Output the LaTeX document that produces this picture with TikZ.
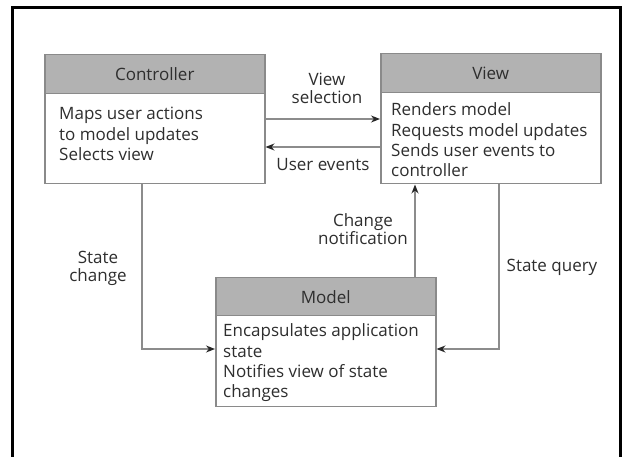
\documentclass[tikz,border=0pt]{standalone}
\usepackage{fontspec}
\setmainfont{Open Sans}
\usetikzlibrary{arrows.meta}
\definecolor{hdrgray}{HTML}{B2B2B2}
\definecolor{boxline}{HTML}{8A8A8A}
\definecolor{txt}{HTML}{2E2E2E}
\definecolor{arrline}{HTML}{8C8C8C}
\definecolor{tipcol}{HTML}{262626}
\tikzset{
  hdr/.style={draw=boxline, fill=hdrgray, line width=1.5pt, minimum width=220pt, minimum height=39pt, anchor=north west, inner sep=0pt, text=txt, font=\fontsize{17}{20}\selectfont},
  bodybox/.style={draw=boxline, fill=white, line width=1.5pt, minimum width=220pt, minimum height=90pt, anchor=north west, inner sep=0pt},
  bodytxt/.style={anchor=north west, align=left, inner sep=0pt, text=txt, font=\fontsize{17}{20.4}\selectfont},
  lbl/.style={align=center, inner sep=0pt, text=txt, font=\fontsize{17}{18}\selectfont},
  arr/.style={draw=arrline, line width=1.3pt, -{Stealth[length=9pt,width=7pt,color=tipcol]}}
}
\begin{document}
\begin{tikzpicture}[x=1pt,y=-1pt]
\useasboundingbox (0,0) rectangle (622,457);
\fill[white] (0,0) rectangle (622,457);
\draw[line width=2.7pt] (12.7,460) -- (12.7,7.3) -- (620.3,7.3) -- (620.3,460);

% Controller
\node[bodybox, minimum height=90pt] (cb) at (44,93) {};
\node[hdr] (ch) at (44,54) {Controller};
\node[bodytxt] (ct) at (59,107) {Maps user actions\\to model updates\\Selects view};

% View
\node[bodybox, minimum height=91pt] (vb) at (380,92) {};
\node[hdr] (vh) at (380,53) {View};
\node[bodytxt] (vt) at (391,102.5) {Renders model\\Requests model updates\\Sends user events to\\controller};

% Model
\node[bodybox, minimum height=91pt] (mb) at (215,315) {};
\node[hdr, minimum height=38pt] (mh) at (215,277) {Model};
\node[bodytxt] (mt) at (223,323.5) {Encapsulates application\\state\\Notifies view of state\\changes};

% Coordinates for connector routes
\coordinate (vsel) at (0,119);
\coordinate (uev) at (0,147);
\coordinate (sc) at (142,349);
\coordinate (cn) at (415,0);
\coordinate (sq) at (499,349);

\draw[arr] (cb.east |- vsel) -- (vb.west |- vsel);
\draw[arr] (vb.west |- uev) -- (cb.east |- uev);
\draw[arr] (cb.south -| sc) |- (mb.west |- sc);
\draw[arr] (mh.north -| cn) -- (vb.south -| cn);
\draw[arr] (vb.south -| sq) |- (mb.east |- sq);

% Labels
\node[lbl] (lvs) at (327,88) {View\\selection};
\node[lbl] (lue) at (323,165) {User events};
\node[lbl] (lsc) at (98,268) {State\\change};
\node[lbl, font=\fontsize{17}{16}\selectfont] (lcn) at (363,229) {Change\\notification};
\node[lbl] (lsq) at (552,267) {State query};
\end{tikzpicture}
\end{document}
